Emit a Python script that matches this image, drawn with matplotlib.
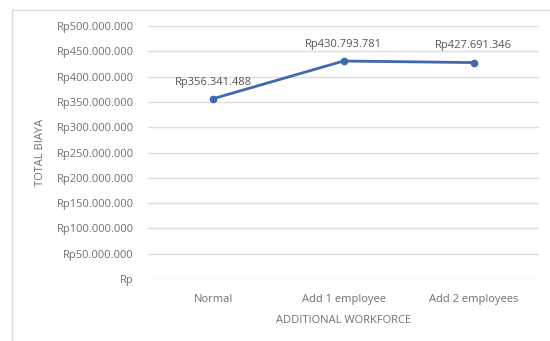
import matplotlib.pyplot as plt
from matplotlib.patches import Rectangle
from matplotlib.ticker import FuncFormatter

scenarios = ["Normal", "Add 1 employee", "Add 2 employees"]
total_cost = [356341488, 430793781, 427691346]
y_ticks = list(range(0, 500000001, 50000000))


def rupiah(v, pos=None):
    if v == 0:
        return "Rp"
    return "Rp" + f"{int(v):,}".replace(",", ".")


plt.rcParams['font.family'] = ['Open Sans', 'DejaVu Sans']

fig = plt.figure(figsize=(5.5, 3.41), dpi=100)
fig.patch.set_facecolor('white')

# chart frame
fig.patches.append(Rectangle((12 / 550, -0.05), 1.1, 1 - 10 / 341 + 0.05,
                             transform=fig.transFigure, fill=False,
                             edgecolor='#d9d9d9', linewidth=1.0))

ax = fig.add_axes([148 / 550, 1 - 279 / 341, 391 / 550, 253 / 341])
x = list(range(len(scenarios)))
ax.plot(x, total_cost, color='#4268ad', linewidth=2.0, marker='o',
        markersize=4.5, zorder=3)

for xi, v in zip(x, total_cost):
    ax.annotate(rupiah(v), (xi, v), xytext=(0, 8), textcoords='offset points',
                ha='center', va='bottom', fontsize=8, color='#555555')

ax.set_xlim(-0.5, 2.5)
ax.set_ylim(0, 500000000)
ax.set_yticks(y_ticks)
ax.yaxis.set_major_formatter(FuncFormatter(rupiah))
ax.set_xticks(x)
ax.set_xticklabels(scenarios)
ax.grid(axis='y', color='#dedede', linewidth=1.0)
ax.set_axisbelow(True)
for s in ax.spines.values():
    s.set_visible(False)
ax.tick_params(length=0, labelsize=8, labelcolor='#707070')
ax.tick_params(axis='y', pad=10)
ax.tick_params(axis='x', pad=11)

ax.set_xlabel("ADDITIONAL WORKFORCE", fontsize=8, color='#707070', labelpad=7)
ax.set_ylabel("TOTAL BIAYA", fontsize=8, color='#707070', labelpad=8)

fig.savefig("out.png", dpi=100)
